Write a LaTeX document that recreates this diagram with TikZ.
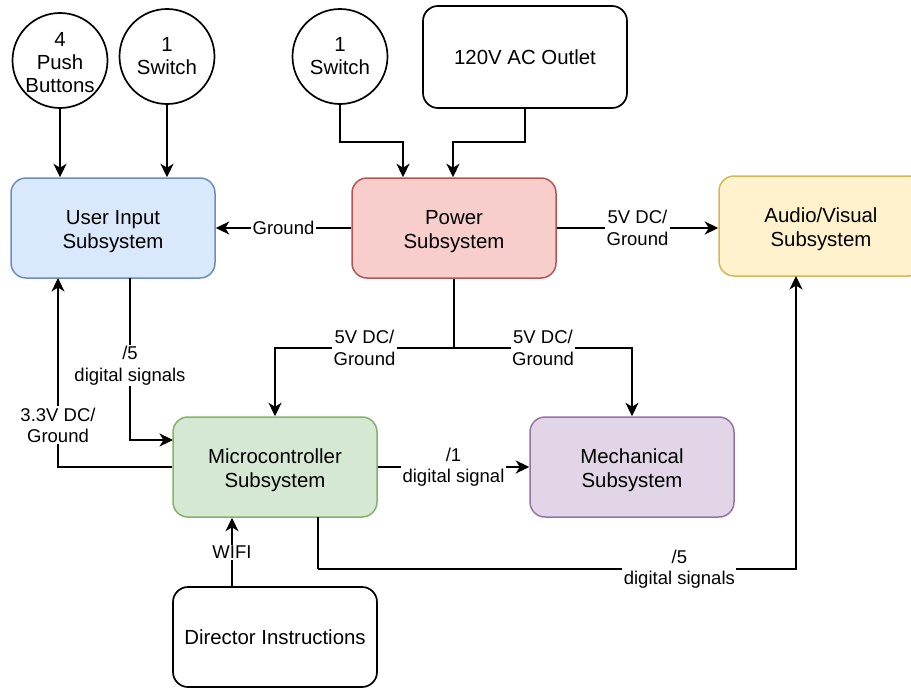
\documentclass[tikz,border=0pt]{standalone}
\usepackage{fontspec}
\setmainfont{Liberation Sans}
\usetikzlibrary{arrows.meta}
\definecolor{uiF}{HTML}{DAE8FC}\definecolor{uiD}{HTML}{6C8EBF}
\definecolor{pwF}{HTML}{F8CECC}\definecolor{pwD}{HTML}{B85450}
\definecolor{avF}{HTML}{FFF2CC}\definecolor{avD}{HTML}{D6B656}
\definecolor{mcF}{HTML}{D5E8D4}\definecolor{mcD}{HTML}{82B366}
\definecolor{meF}{HTML}{E1D5E7}\definecolor{meD}{HTML}{9673A6}
\tikzset{
  blk/.style={draw, line width=1.5pt, rounded corners=15pt, minimum width=204pt,
    minimum height=100pt, align=center, inner sep=0pt,
    font=\fontsize{20.4}{24}\selectfont},
  % two-line subsystem boxes: fixed text box so the lines sit centred
  sub/.style={blk, text height=41.6pt, text depth=0pt},
  src/.style={draw, circle, line width=1.7pt, minimum size=95pt, align=center,
    inner sep=0pt, font=\fontsize{20.4}{23}\selectfont},
  lbl/.style={fill=white, align=center, inner sep=1.5pt,
    font=\fontsize{18.5}{21.5}\selectfont},
  arr/.style={line width=1.7pt, -{Stealth[length=13.5pt,width=13pt,inset=4pt]}},
  ln/.style={line width=1.7pt}
}
\begin{document}
\begin{tikzpicture}[x=1pt,y=-1pt]
\useasboundingbox (0,0) rectangle (911,688);
\clip (0,0) rectangle (911,688);

% input devices
\node[src, text height=64pt, text depth=0pt] (pb) at (60,60.5) {4\\Push\\Buttons};
\node[src] (sw1) at (167,56.5) {1\\Switch};
\node[src] (sw2) at (340,56.5) {1\\Switch};
\node[blk, draw=black, fill=white, line width=1.7pt, minimum height=102pt] (out) at (525,57) {120V AC Outlet};

% subsystems
\node[sub, draw=uiD, fill=uiF] (ui) at (113,228) {User Input\\Subsystem};
\node[sub, draw=pwD, fill=pwF] (pw) at (454,228) {Power\\Subsystem};
\node[sub, draw=avD, fill=avF] (av) at (821,226) {Audio/Visual\\Subsystem};
\node[sub, draw=mcD, fill=mcF] (mc) at (275,467) {Microcontroller\\Subsystem};
\node[sub, draw=meD, fill=meF] (me) at (632,467) {Mechanical\\Subsystem};
\node[blk, draw=black, fill=white, line width=1.7pt] (di) at (275,637) {Director Instructions};

% routing points
\coordinate (j1) at (403,142);
\coordinate (j2) at (453,142);
\coordinate (sp) at (454,348);
\coordinate (uio) at (130,278);
\coordinate (mci) at (173,440);
\coordinate (uii) at (58,278);
\coordinate (mco) at (318,517);
\coordinate (c1) at (318,569);
\coordinate (avi) at (796,276);
\coordinate (dio) at (232,587);

% connectors
\draw[arr] (pb.south) -- (pb.south |- ui.north);
\draw[arr] (sw1.south) -- (sw1.south |- ui.north);
\draw[arr] (sw2.south) |- (j1) -- (j1 |- pw.north);
\draw[arr] (out.south) |- (j2) -- (j2 |- pw.north);
\draw[arr] (pw.west) -- node[lbl]{Ground} (ui.east);
\draw[arr] (pw.east) -- node[lbl]{5V DC/\\Ground} (pw.east -| av.west);
\draw[ln] (pw.south) -- (sp);
\draw[arr] (sp) -| node[lbl,pos=0.25]{5V DC/\\Ground} (mc.north);
\draw[arr] (sp) -| node[lbl,pos=0.25]{5V DC/\\Ground} (me.north);
\draw[arr] (uio) |- node[lbl,pos=0.27]{/5\\digital signals} (mci);
\draw[arr] (mc.west) -| node[lbl,pos=0.61]{3.3V DC/\\Ground} (uii);
\draw[arr] (mc.east) -- node[lbl]{/1\\digital signal} (me.west);
\draw[ln] (mco) -- (c1);
\draw[arr] (c1) -| node[lbl,pos=0.378]{/5\\digital signals} (avi);
\draw[arr] (dio) -- node[lbl]{WIFI} (dio |- mc.south);
\end{tikzpicture}
\end{document}
